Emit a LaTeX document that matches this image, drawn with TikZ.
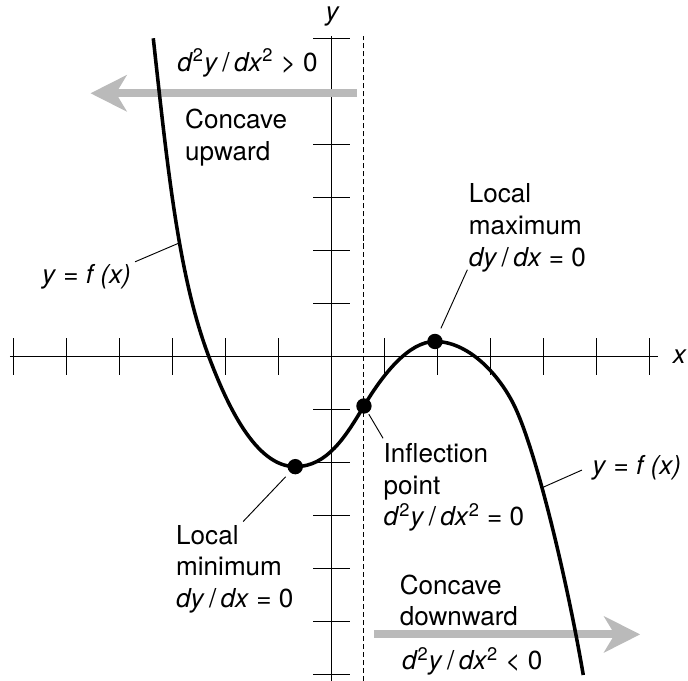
\documentclass[tikz,border=0pt]{standalone}
\usepackage{fontspec}
\setmainfont{TeX Gyre Heros}
\usepackage{tikz}
\usetikzlibrary{arrows.meta}

\newcommand{\dydx}{\textit{dy}\,/\,\textit{dx}}
\newcommand{\dtwo}{\textit{d}\textsuperscript{2}\textit{y}\,/\,\textit{dx}\textsuperscript{2}}
\newcommand{\yfx}{\textit{y} = \textit{f\ (x)}}

\begin{document}
\begin{tikzpicture}[
  axisline/.style={line width=0.7pt},
  fx/.style={line width=1.9pt, line join=round},
  dotpt/.style={circle, fill=black, inner sep=0pt, minimum size=0.29cm},
  bigarr/.style={-{Stealth[length=6.8mm, width=6.8mm, inset=2mm]}, line width=4.3pt, black!27},
  lbl/.style={font=\fontsize{14}{17}\selectfont, align=left, inner sep=0pt},
  lead/.style={line width=0.5pt}
]
\useasboundingbox (-6.258,-6.115) rectangle (6.723,6.730);

% Axes with ticks
\draw[axisline] (-6.07,0) -- (6.16,0);
\draw[axisline] (0,-6.12) -- (0,6.05);
\foreach \i in {-6,...,6} {
  \draw[axisline] (\i,-0.345) -- (\i,0.345);
  \draw[axisline] (-0.345,\i) -- (0.345,\i);
}
\node[lbl] (xlab) at (6.57,0) {\textit{x}};
\node[lbl] (ylab) at (0.02,6.42) {\textit{y}};

% Vertical line through the inflection point
\draw[line width=0.5pt, dash pattern=on 2.7pt off 1.6pt] (0.60,-6.12) -- (0.60,6.06);

% Concavity arrows
\coordinate (upstart) at (0.48,4.97);
\coordinate (uptip) at (-4.55,4.97);
\coordinate (downstart) at (0.80,-5.24);
\coordinate (downtip) at (5.82,-5.24);
\draw[bigarr] (upstart) -- (uptip);
\draw[bigarr] (downstart) -- (downtip);

% The curve y = f(x)
\draw[fx] (-3.366,6.008) .. controls (-3.091,3.508) and (-2.884,1.494) .. (-2.315,-0.006)
  .. controls (-1.974,-0.906) and (-1.437,-2.075) .. (-0.687,-2.075)
  .. controls (-0.087,-2.075) and (0.259,-1.5145) .. (0.609,-0.930)
  .. controls (0.959,-0.3455) and (1.449,0.287) .. (1.949,0.287)
  .. controls (2.549,0.287) and (3.110,-0.274) .. (3.421,-0.874)
  .. controls (3.835,-1.674) and (4.441,-4.206) .. (4.747,-6.006);

% Critical points
\node[dotpt] (minpt) at (-0.687,-2.075) {};
\node[dotpt] (inflpt) at (0.609,-0.930) {};
\node[dotpt] (maxpt) at (1.949,0.287) {};

% Labels
\node[lbl, anchor=base west] (upcond) at (-2.92,5.38) {\dtwo{} \textgreater{} 0};
\node[lbl, anchor=west] (uptxt) at (-2.77,4.13) {Concave\\upward};
\node[lbl, anchor=west] (maxtxt) at (2.58,2.43) {Local\\maximum\\\dydx{} = 0};
\node[lbl, anchor=west] (infltxt) at (0.975,-2.47) {Inflection\\point\\\dtwo{} = 0};
\node[lbl, anchor=west] (mintxt) at (-2.94,-4.01) {Local\\minimum\\\dydx{} = 0};
\node[lbl, anchor=west] (downtxt) at (1.28,-4.60) {Concave\\downward};
\node[lbl, anchor=base west] (downcond) at (1.32,-5.91) {\dtwo{} \textless{} 0};
\node[lbl, anchor=base west] (fxleft) at (-5.47,1.39) {\yfx};
\node[lbl, anchor=base west] (fxright) at (4.91,-2.22) {\yfx};

% Leaders
\coordinate (maxend) at (2.56,1.64);
\coordinate (minend) at (-1.67,-3.11);
\coordinate (inflend) at (0.97,-1.54);
\coordinate (fxlstart) at (-3.71,1.79);
\coordinate (fxlend) at (-2.89,2.14);
\coordinate (fxrstart) at (3.975,-2.47);
\coordinate (fxrend) at (4.72,-2.14);
\draw[lead, shorten <=0.12cm] (maxpt) -- (maxend);
\draw[lead, shorten <=0.11cm] (minpt) -- (minend);
\draw[lead, shorten <=0.03cm] (inflpt) -- (inflend);
\draw[lead] (fxlstart) -- (fxlend);
\draw[lead] (fxrstart) -- (fxrend);

\end{tikzpicture}
\end{document}
